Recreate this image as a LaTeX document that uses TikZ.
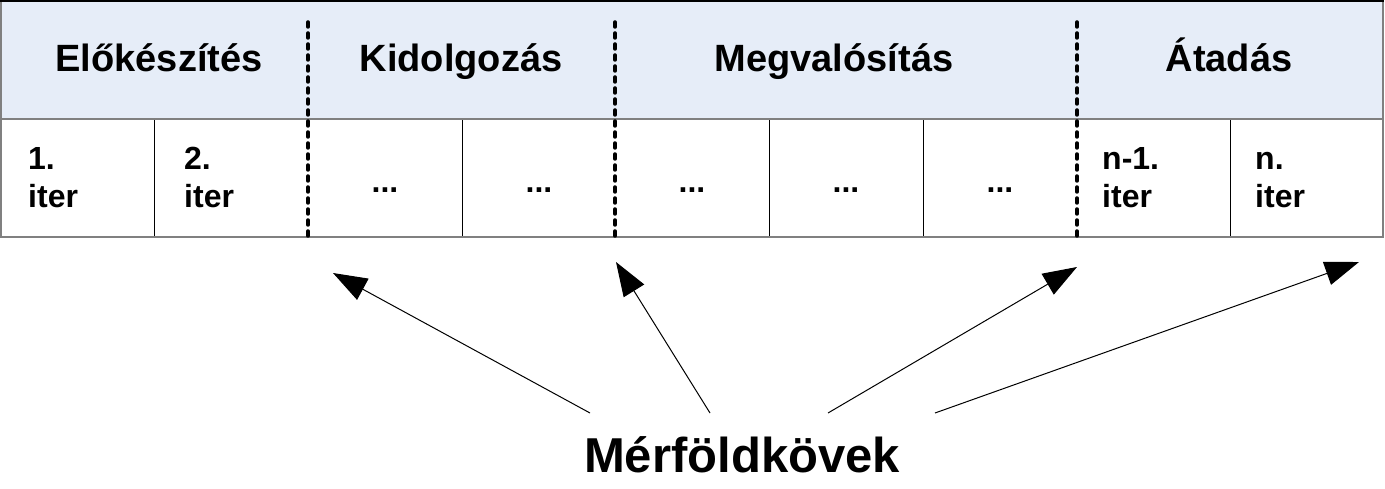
\documentclass[tikz,border=0pt]{standalone}
\usepackage{fontspec}
\setmainfont{Liberation Sans}
\usetikzlibrary{arrows.meta}
\definecolor{headblue}{RGB}{230,237,248}
\definecolor{framegray}{RGB}{128,128,128}
\begin{document}
\begin{tikzpicture}[x=1pt,y=-1pt,
	phase/.style={font=\fontsize{38}{44}\selectfont\bfseries,anchor=base},
	iter/.style={font=\fontsize{32}{38}\selectfont\bfseries,align=left,anchor=base west,inner sep=0pt},
	dots/.style={font=\fontsize{32}{38}\selectfont\bfseries,anchor=base,inner sep=0pt},
	milestone/.style={line width=3.5pt,dash pattern=on 5pt off 6pt,line cap=round},
	pointer/.style={line width=1pt,-{Triangle[length=34pt,width=24pt]}}]
	\useasboundingbox (0,0) rectangle (1385,489);
	% fejlec es cellak
	\fill[headblue] (1,1) rectangle (1383,119);
	\foreach \x in {154,462,769,923,1230}
		\draw (\x,119) -- (\x,237);
	\draw[framegray,line width=2pt] (1,1) rectangle (1383,237);
	\draw[framegray,line width=2pt] (1,119) -- (1383,119);
	\draw[line width=1.5pt] (0,1) -- (1384,1);
	\node[phase] (elo) at (159,72) {Előkészítés};
	\node[phase] (kid) at (461,72) {Kidolgozás};
	\node[phase] (meg) at (834,72) {Megvalósítás};
	\node[phase] (ata) at (1229,72) {Átadás};
	% a base horgony az utolso sor alapvonala
	\node[iter] (it1) at (28,208) {1.\\iter};
	\node[iter] (it2) at (184,208) {2.\\iter};
	\node[iter] (itn1) at (1102,208) {n-1.\\iter};
	\node[iter] (itn) at (1255,208) {n.\\iter};
	\foreach \x [count=\i] in {385,539,692,846,1000}
		\node[dots] (d\i) at (\x,193) {...};
	% merfoldkovek
	\draw[milestone] (308,22) coordinate (s1) -- (308,240);
	\draw[milestone] (615,22) coordinate (s2) -- (615,240);
	\draw[milestone] (1077,22) coordinate (s3) -- (1077,240);
	\node[font=\fontsize{49}{56}\selectfont\bfseries,anchor=base] (mf) at (742,472) {Mérföldkövek};
	\coordinate (m1) at (590,413);
	\coordinate (m2) at (710,413);
	\coordinate (m3) at (828,413);
	\coordinate (m4) at (935,413);
	\coordinate (t1) at (333,273);
	\coordinate (t2) at (616,262);
	\coordinate (t3) at (1077,267);
	\coordinate (t4) at (1359,262);
	\draw[pointer] (m1) -- (t1);
	\draw[pointer] (m2) -- (t2);
	\draw[pointer] (m3) -- (t3);
	\draw[pointer] (m4) -- (t4);
\end{tikzpicture}
\end{document}
